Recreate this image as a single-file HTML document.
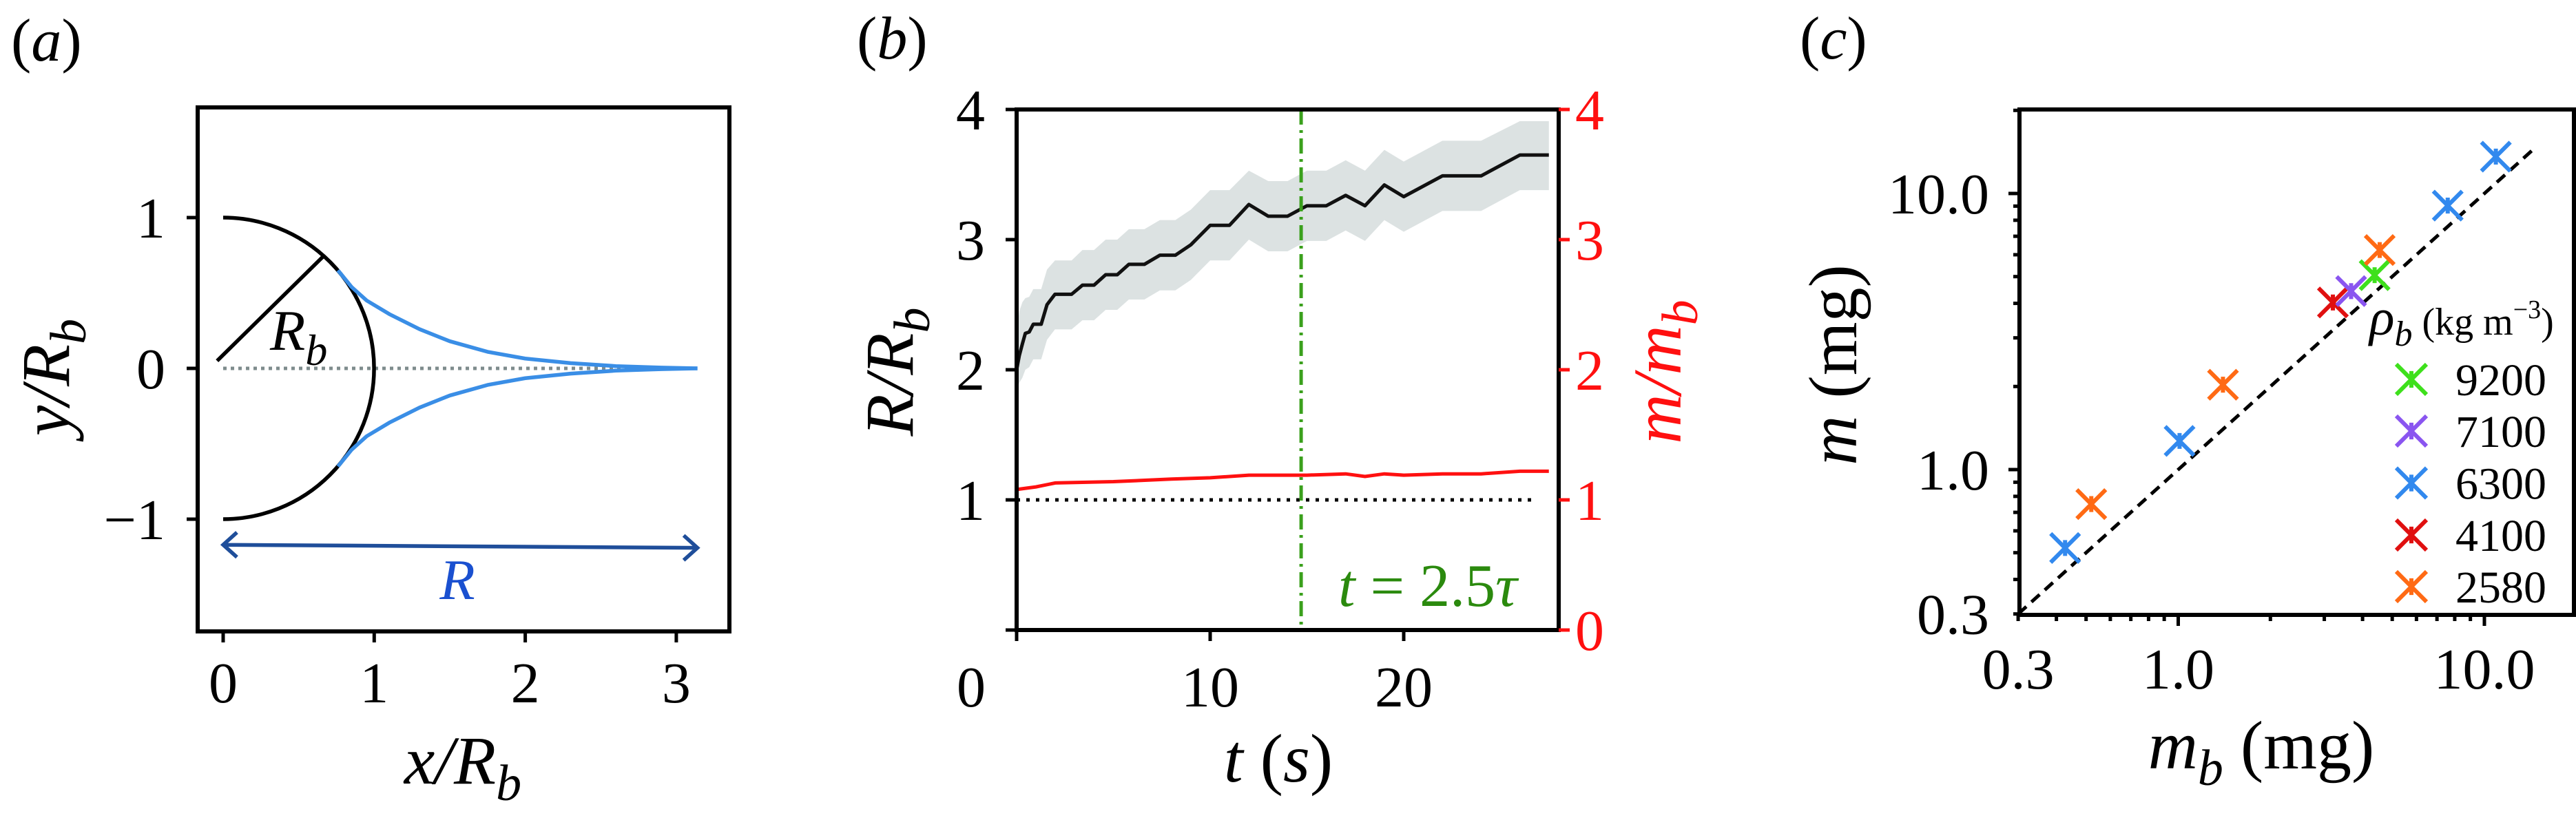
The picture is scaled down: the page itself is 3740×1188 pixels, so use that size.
<!DOCTYPE html>
<html><head><meta charset="utf-8"><style>
html,body{margin:0;padding:0;background:#fff;}
svg{display:block;font-family:"Liberation Serif","Times New Roman",serif;}
svg text{font-family:"Liberation Serif","Times New Roman",serif;}
</style></head><body>
<svg id="fig" width="3740" height="1188" viewBox="0 0 3740 1188" xmlns="http://www.w3.org/2000/svg" font-family="Liberation Serif, serif">
<rect width="3740" height="1188" fill="#fff"/>
<g id="pa"></g>
<g id="pb"></g>
<g id="pc"></g>
</svg>
<script>
// ---------- Panel (a) data ----------
const aTicksX = [0,1,2,3];
const aTicksY = [-1,0,1];
const aTickLabelsY = ["\u22121","0","1"];
const aCurveX = [0.76,0.85,0.95,1.1,1.3,1.5,1.75,2.0,2.3,2.6,2.9,3.14];
const aCurveY = [0.65,0.54,0.45,0.36,0.26,0.18,0.11,0.065,0.035,0.015,0.005,0];
// ---------- Panel (b) data ----------
const bTime = [0,0.14,0.3,0.45,0.65,0.86,1.27,1.57,1.98,2.84,3.4,4.0,4.6,5.2,5.8,6.6,7.4,8.2,9.0,10.0,11.0,12.0,13.0,14.0,15.0,16.0,17.0,18.0,19.0,20.0,22.0,24.0,26.0,27.5];
const bRatio = [2.0,2.11,2.2,2.28,2.29,2.35,2.35,2.5,2.58,2.58,2.65,2.65,2.73,2.73,2.81,2.81,2.88,2.88,2.96,3.11,3.11,3.27,3.18,3.18,3.26,3.26,3.34,3.26,3.42,3.33,3.49,3.49,3.65,3.65];
const bUpper = [2.3,2.45,2.52,2.55,2.56,2.62,2.62,2.77,2.84,2.84,2.92,2.92,3.0,3.0,3.08,3.08,3.15,3.15,3.23,3.38,3.38,3.53,3.45,3.45,3.53,3.53,3.61,3.53,3.69,3.6,3.76,3.76,3.91,3.91];
const bLower = [1.85,1.9,1.94,2.0,2.02,2.08,2.08,2.23,2.31,2.31,2.38,2.38,2.46,2.46,2.54,2.54,2.61,2.61,2.69,2.84,2.84,3.0,2.91,2.91,2.99,2.99,3.07,2.99,3.15,3.06,3.22,3.22,3.38,3.38];
const bMassTime = [0,1,2,5,8,10,12,15,17,18,19,20,22,24,26,27.5];
const bMassRatio = [1.08,1.1,1.13,1.14,1.16,1.17,1.19,1.19,1.2,1.18,1.2,1.19,1.2,1.2,1.22,1.22];
const bTicksX = [0,10,20];
const bTicksY = [0,1,2,3,4];
const bMarkerTime = 14.7;
// ---------- Panel (c) data ----------
const cSeries = ["9200","7100","6300","4100","2580"];
const cColors = {"9200":"#3ee01c","7100":"#8a55f0","6300":"#3289ee","4100":"#e01010","2580":"#ff6a14"};
const cMb = [0.427,0.52,1.01,1.40,3.2,3.67,4.38,4.55,7.59,10.9];
const cM  = [0.52,0.75,1.27,2.03,4.03,4.43,5.06,6.24,9.04,13.6];
const cGroup = ["6300","2580","6300","2580","4100","7100","9200","2580","6300","6300"];
const cTickVals = [0.3,1,10];
const cTickLabels = ["0.3","1.0","10.0"];

const NS="http://www.w3.org/2000/svg";
function mk(parent,tag,attrs,text){const e=document.createElementNS(NS,tag);for(const k in attrs)e.setAttribute(k,attrs[k]);if(text!==undefined)e.textContent=text;parent.appendChild(e);return e;}

// ================= Panel A =================
(function(){
const g=document.getElementById('pa');
const L=287,R=1059,T=156,B=917;
const X=v=>324+v*219.3, Y=v=>535-v*219;
let e;
e=mk(g,'text',{x:16,y:88,'font-size':88},'');


e.innerHTML='(<tspan font-style="italic">a</tspan>)';
e=mk(g,'line',{x1:X(0),y1:Y(0),x2:X(3.15),y2:Y(0),stroke:'#7f8c8d','stroke-width':5,'stroke-dasharray':'5 6'});


e=mk(g,'path',{d:`M${X(0)},${Y(1)} A219.2,219 0 0 1 ${X(0)},${Y(-1)}`,fill:'none',stroke:'#000','stroke-width':5.5});


e=mk(g,'line',{x1:X(-0.04),y1:Y(0.05),x2:X(0.66),y2:Y(0.74),stroke:'#000','stroke-width':5.5});


[1,-1].forEach(s=>{
  const pts=aCurveX.map((x,i)=>X(x)+','+Y(s*aCurveY[i])).join(' ');
  const p=mk(g,'polyline',{points:pts,fill:'none',stroke:'#3a8ee6','stroke-width':5.5,'stroke-linejoin':'round'});
  
  
});
const ay1=Y(-1.17),ay2=Y(-1.19);
e=mk(g,'path',{d:`M${X(0)},${ay1} L${X(3.14)},${ay2} M${X(0)+20},${ay1-18} L${X(0)},${ay1} L${X(0)+20},${ay1+18} M${X(3.14)-20},${ay2-18} L${X(3.14)},${ay2} L${X(3.14)-20},${ay2+18}`,fill:'none',stroke:'#1f4e9a','stroke-width':5.5});


e=mk(g,'text',{x:664,y:870,'font-size':84,'font-style':'italic',fill:'#1a50d0','text-anchor':'middle'},'R');


e=mk(g,'text',{x:392,y:508,'font-size':84,'font-style':'italic'},'');


e.innerHTML='R<tspan font-size="64" dy="22">b</tspan>';
e=mk(g,'rect',{x:L,y:T,width:R-L,height:B-T,fill:'none',stroke:'#000','stroke-width':6});


aTicksX.forEach(v=>{
  const t=mk(g,'line',{x1:X(v),y1:B,x2:X(v),y2:B+16,stroke:'#000','stroke-width':5});
  
  
  const l=mk(g,'text',{x:X(v),y:1020,'font-size':84,'text-anchor':'middle'},String(v));
  
  
});
aTicksY.forEach((v,i)=>{
  const t=mk(g,'line',{x1:L-16,y1:Y(v),x2:L,y2:Y(v),stroke:'#000','stroke-width':5});
  
  
  const l=mk(g,'text',{x:240,y:Y(v)+29,'font-size':84,'text-anchor':'end'},aTickLabelsY[i]);
  
  
});
e=mk(g,'text',{x:672,y:1138,'font-size':100,'font-style':'italic','text-anchor':'middle'},'');


e.innerHTML='x/R<tspan font-size="74" dy="24">b</tspan>';
e=mk(g,'text',{x:0,y:0,'font-size':100,'font-style':'italic','text-anchor':'middle',transform:'translate(100,548) rotate(-90)'},'');


e.innerHTML='y/R<tspan font-size="74" dy="24">b</tspan>';
})();

// ================= Panel B =================
(function(){
const g=document.getElementById('pb');
const L=1476,R=2263,T=159,B=915;
const X=v=>L+v*28.1, Y=v=>B-v*189;
let e;
e=mk(g,'text',{x:1244,y:85,'font-size':88},'');


e.innerHTML='(<tspan font-style="italic">b</tspan>)';
let d='M'+bTime.map((t,i)=>X(t)+','+Y(bUpper[i])).join(' L');
for(let i=bTime.length-1;i>=0;i--) d+=' L'+X(bTime[i])+','+Y(bLower[i]);
e=mk(g,'path',{d:d+'Z',fill:'#dce2e2',stroke:'none'});


e=mk(g,'polyline',{points:bTime.map((t,i)=>X(t)+','+Y(bRatio[i])).join(' '),fill:'none',stroke:'#111','stroke-width':5,'stroke-linejoin':'round'});


e=mk(g,'polyline',{points:bMassTime.map((t,i)=>X(t)+','+Y(bMassRatio[i])).join(' '),fill:'none',stroke:'#ff1010','stroke-width':5});


e=mk(g,'line',{x1:X(0),y1:Y(1),x2:X(26.9),y2:Y(1),stroke:'#000','stroke-width':5,'stroke-dasharray':'5 9'});


e=mk(g,'line',{x1:X(bMarkerTime),y1:T,x2:X(bMarkerTime),y2:B,stroke:'#3aa01c','stroke-width':5,'stroke-dasharray':'22 8 4 8'});


e=mk(g,'text',{x:1943,y:880,'font-size':88,fill:'#2b8a0e'},'');


e.innerHTML='<tspan font-style="italic">t</tspan> = 2.5<tspan font-style="italic">τ</tspan>';
e=mk(g,'rect',{x:L,y:T,width:R-L,height:B-T,fill:'none',stroke:'#000','stroke-width':6});


bTicksX.forEach(v=>{
  const t=mk(g,'line',{x1:X(v),y1:B,x2:X(v),y2:B+16,stroke:'#000','stroke-width':5});
  
  
  const l=mk(g,'text',{x:v===0?1410:X(v),y:1026,'font-size':84,'text-anchor':'middle'},String(v));
  
  
});
bTicksY.forEach(v=>{
  const t=mk(g,'line',{x1:L-16,y1:Y(v),x2:L,y2:Y(v),stroke:'#000','stroke-width':5});
  
  
  if(v>0){const l=mk(g,'text',{x:1430,y:Y(v)+29,'font-size':84,'text-anchor':'end'},String(v));
  
  }
  const t2=mk(g,'line',{x1:R,y1:Y(v),x2:R+16,y2:Y(v),stroke:'#ff1010','stroke-width':5});
  
  
  const l2=mk(g,'text',{x:2287,y:Y(v)+29,'font-size':84,fill:'#ff1010'},String(v));
  
  
});
e=mk(g,'text',{x:1856,y:1135,'font-size':100,'text-anchor':'middle'},'');


e.innerHTML='<tspan font-style="italic">t</tspan> (<tspan font-style="italic">s</tspan>)';
e=mk(g,'text',{x:0,y:0,'font-size':100,'font-style':'italic','text-anchor':'middle',transform:'translate(1325,540) rotate(-90)'},'');


e.innerHTML='R/R<tspan font-size="74" dy="24">b</tspan>';
e=mk(g,'text',{x:0,y:0,'font-size':100,'font-style':'italic','text-anchor':'middle',fill:'#ff1010',transform:'translate(2440,540) rotate(-90)'},'');


e.innerHTML='m/m<tspan font-size="74" dy="24">b</tspan>';
})();

// ================= Panel C =================
(function(){
const g=document.getElementById('pc');
const L=2932,R=3737,T=159,B=893;
const X=v=>3162.5+Math.log10(v)*444.5, Y=v=>682-Math.log10(v)*401;
let e;
e=mk(g,'text',{x:2613,y:85,'font-size':88},'');


e.innerHTML='(<tspan font-style="italic">c</tspan>)';
e=mk(g,'line',{x1:X(0.3),y1:Y(0.3),x2:X(14.8),y2:Y(14.8),stroke:'#000','stroke-width':5,'stroke-dasharray':'16 10'});


function marker(cx,cy,col,s){
  return mk(g,'path',{d:`M${cx-s},${cy-s}L${cx+s},${cy+s}M${cx-s},${cy+s}L${cx+s},${cy-s}M${cx},${cy-s*0.55}L${cx},${cy+s*0.55}`,stroke:col,'stroke-width':6,fill:'none'});
}
cMb.forEach((mb,i)=>{
  const m=marker(X(mb),Y(cM[i]),cColors[cGroup[i]],21);
  
  
});
e=mk(g,'rect',{x:L,y:T,width:R-L,height:B-T,fill:'none',stroke:'#000','stroke-width':6});


[0.3,0.4,0.5,0.6,0.7,0.8,0.9,1,2,3,4,5,6,7,8,9,10,20].forEach(v=>{
  const major=(v===1||v===10);
  const len=major?16:9;
  if(X(v)<=R+1){const t=mk(g,'line',{x1:X(v),y1:B,x2:X(v),y2:B+len,stroke:'#000','stroke-width':5});
  
  }
  if(Y(v)>=T-1){const t=mk(g,'line',{x1:L-len,y1:Y(v),x2:L,y2:Y(v),stroke:'#000','stroke-width':5});
  
  }
});
cTickVals.forEach((v,i)=>{
  const l=mk(g,'text',{x:X(v),y:1000,'font-size':84,'text-anchor':'middle'},cTickLabels[i]);
  
  
  const l2=mk(g,'text',{x:2888,y:Y(v)+29,'font-size':84,'text-anchor':'end'},cTickLabels[i]);
  
  
});
e=mk(g,'text',{x:3440,y:486,'font-size':56},'');


e.innerHTML='<tspan font-style="italic" font-size="76">ρ</tspan><tspan font-style="italic" font-size="52" dy="16">b</tspan><tspan dy="-16"> (kg m</tspan><tspan font-size="38" dy="-24">−3</tspan><tspan dy="24">)</tspan>';
const legY=[551,626,701.5,777,852];
cSeries.forEach((s,i)=>{
  const m=marker(3501,legY[i],cColors[s],22);
  
  
  const l=mk(g,'text',{x:3565,y:legY[i]+23,'font-size':66},s);
  
  
});
e=mk(g,'text',{x:3283,y:1116,'font-size':100,'text-anchor':'middle'},'');


e.innerHTML='<tspan font-style="italic">m</tspan><tspan font-style="italic" font-size="74" dy="24">b</tspan><tspan dy="-24"> (mg)</tspan>';
e=mk(g,'text',{x:0,y:0,'font-size':100,'text-anchor':'middle',transform:'translate(2695,530) rotate(-90)'},'');


e.innerHTML='<tspan font-style="italic">m</tspan> (mg)';
})();
</script>
</body></html>
